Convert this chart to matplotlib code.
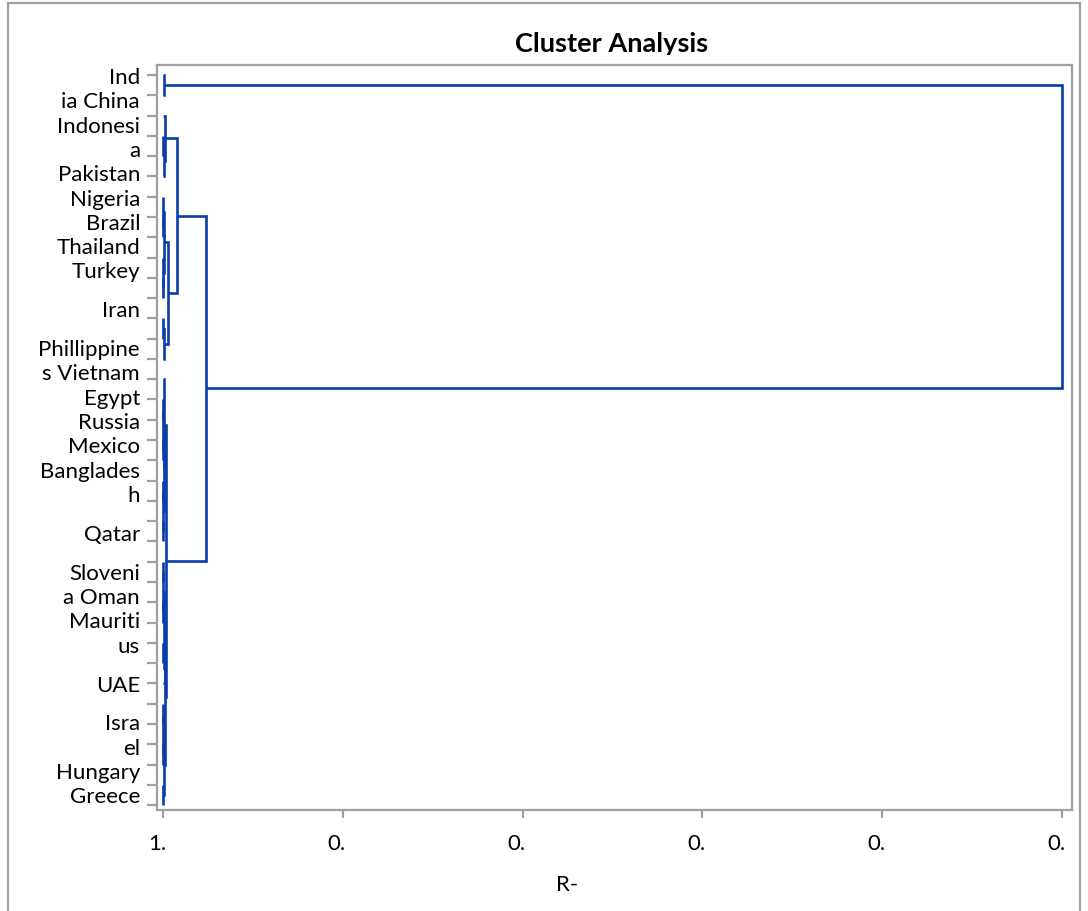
import matplotlib
matplotlib.use("Agg")
import matplotlib.pyplot as plt
from matplotlib.patches import Rectangle
from matplotlib.transforms import Bbox, ScaledTranslation

# labels as they appear (wrapped), "" = gap between label blocks
label_rows = ["Ind", "ia China", "Indonesi", "a", "Pakistan", "Nigeria", "Brazil",
              "Thailand", "Turkey", "", "Iran", "", "Phillippine", "s Vietnam",
              "Egypt", "Russia", "Mexico", "Banglades", "h", "", "Qatar", "",
              "Sloveni", "a Oman", "Mauriti", "us", "", "UAE", "", "Isra", "el",
              "Hungary", "Greece"]

n_leaves = 37
x_ticks = [1.0, 0.8, 0.6, 0.4, 0.2, 0.0]
x_ticklabels = ["1.", "0.", "0.", "0.", "0.", "0."]

# merge tree: (R-square at join, left, right); ints are leaf slots top->bottom
top_pair = (0.9990, 0, 1)
b_upper = (0.9983, 2, (0.9993, (0.9997, 3, 4), 5))
b_p = (0.9993, (0.9995, 6, (0.9997, 7, 8)), (0.9995, 9, (0.9997, 10, 11)))
b_q = (0.9993, (0.9997, 12, 13), 14)
b_lower = (0.9944, b_p, b_q)
clus_b = (0.9844, b_upper, b_lower)
c_x = (0.9993, (0.9996, (0.9998, 16, 17), (0.9998, 18, 19)),
       (0.9996, (0.9998, 20, 21), (0.9998, 22, 23)))
c_1 = (0.9992, 15, c_x)
c_y = (0.9990, (0.9995, (0.9998, 24, 25), (0.9998, 26, 27)),
       (0.9978, (0.9997, 28, 29), 30))
c_z = (0.9992, (0.9995, (0.9998, 31, 32), (0.9998, 33, 34)), (0.9996, 35, 36))
c_2 = (0.9983, c_y, c_z)
clus_c = (0.9967, c_1, c_2)
clus_bc = (0.9522, clus_b, clus_c)
root = (0.0, top_pair, clus_bc)

W, H = 1088, 911
fig = plt.figure(figsize=(W / 100, H / 100), dpi=100)
ax = fig.add_axes([157 / W, 1 - 810 / H, (1072 - 157) / W, (810 - 65) / H])

blue = "#0a3da8"
gray = "#a0a0a0"
font = "Lato"


def draw(node):
    if isinstance(node, int):
        return float(node), 1.0
    h, left, right = node
    yl, hl = draw(left)
    yr, hr = draw(right)
    ax.plot([hl, h, h, hr], [yl, yl, yr, yr], color=blue, lw=1.9,
            solid_joinstyle="miter", solid_capstyle="butt")
    return (yl + yr) / 2, h


draw(root)

step = 20.28
ax.set_ylim((810 - 75) / step, (65 - 75) / step)
ax.set_xlim(1 + 6 / 899, 1 - 909 / 899)

ax.set_yticks(range(n_leaves))
ax.set_yticklabels([])
ax.set_xticks(x_ticks)
ax.set_xticklabels(x_ticklabels)
ax.tick_params(axis="y", length=7.5, width=1.6, color=gray)
ax.tick_params(axis="x", length=6, width=1.6, color=gray, pad=11,
               labelsize=16)
for lbl in ax.get_xticklabels():
    lbl.set_fontfamily(font)
    lbl.set_transform(lbl.get_transform() + ScaledTranslation(-0.06, 0, fig.dpi_scale_trans))
for s in ax.spines.values():
    s.set_color(gray)
    s.set_linewidth(1.6)

# row labels, stacked like wrapped text
y_px = 78.0
row_h = 24.3
for row in label_rows:
    if row == "":
        y_px += 0.6 * row_h
        continue
    fig.text(140 / W, 1 - y_px / H, row, ha="right", va="center",
             fontsize=16, family=font)
    y_px += row_h

fig.text(567 / W, 1 - 885 / H, "R-", ha="center", va="center", fontsize=16,
         family=font)

# title is cut off just under the baseline in the original
title = fig.text(612 / W, 1 - 44 / H, "Cluster Analysis", ha="center",
                 va="center", fontsize=19.5, family=font, fontweight="bold")
title.set_clip_box(Bbox.from_extents(0, H - 54.5, W, H))
title.set_clip_on(True)

fig.patches.append(Rectangle((8 / W, -0.05), (1080 - 8) / W, 1.05 - 3 / H,
                             transform=fig.transFigure, fill=False,
                             edgecolor=gray, lw=1.6))

fig.savefig("out.png", dpi=100)
